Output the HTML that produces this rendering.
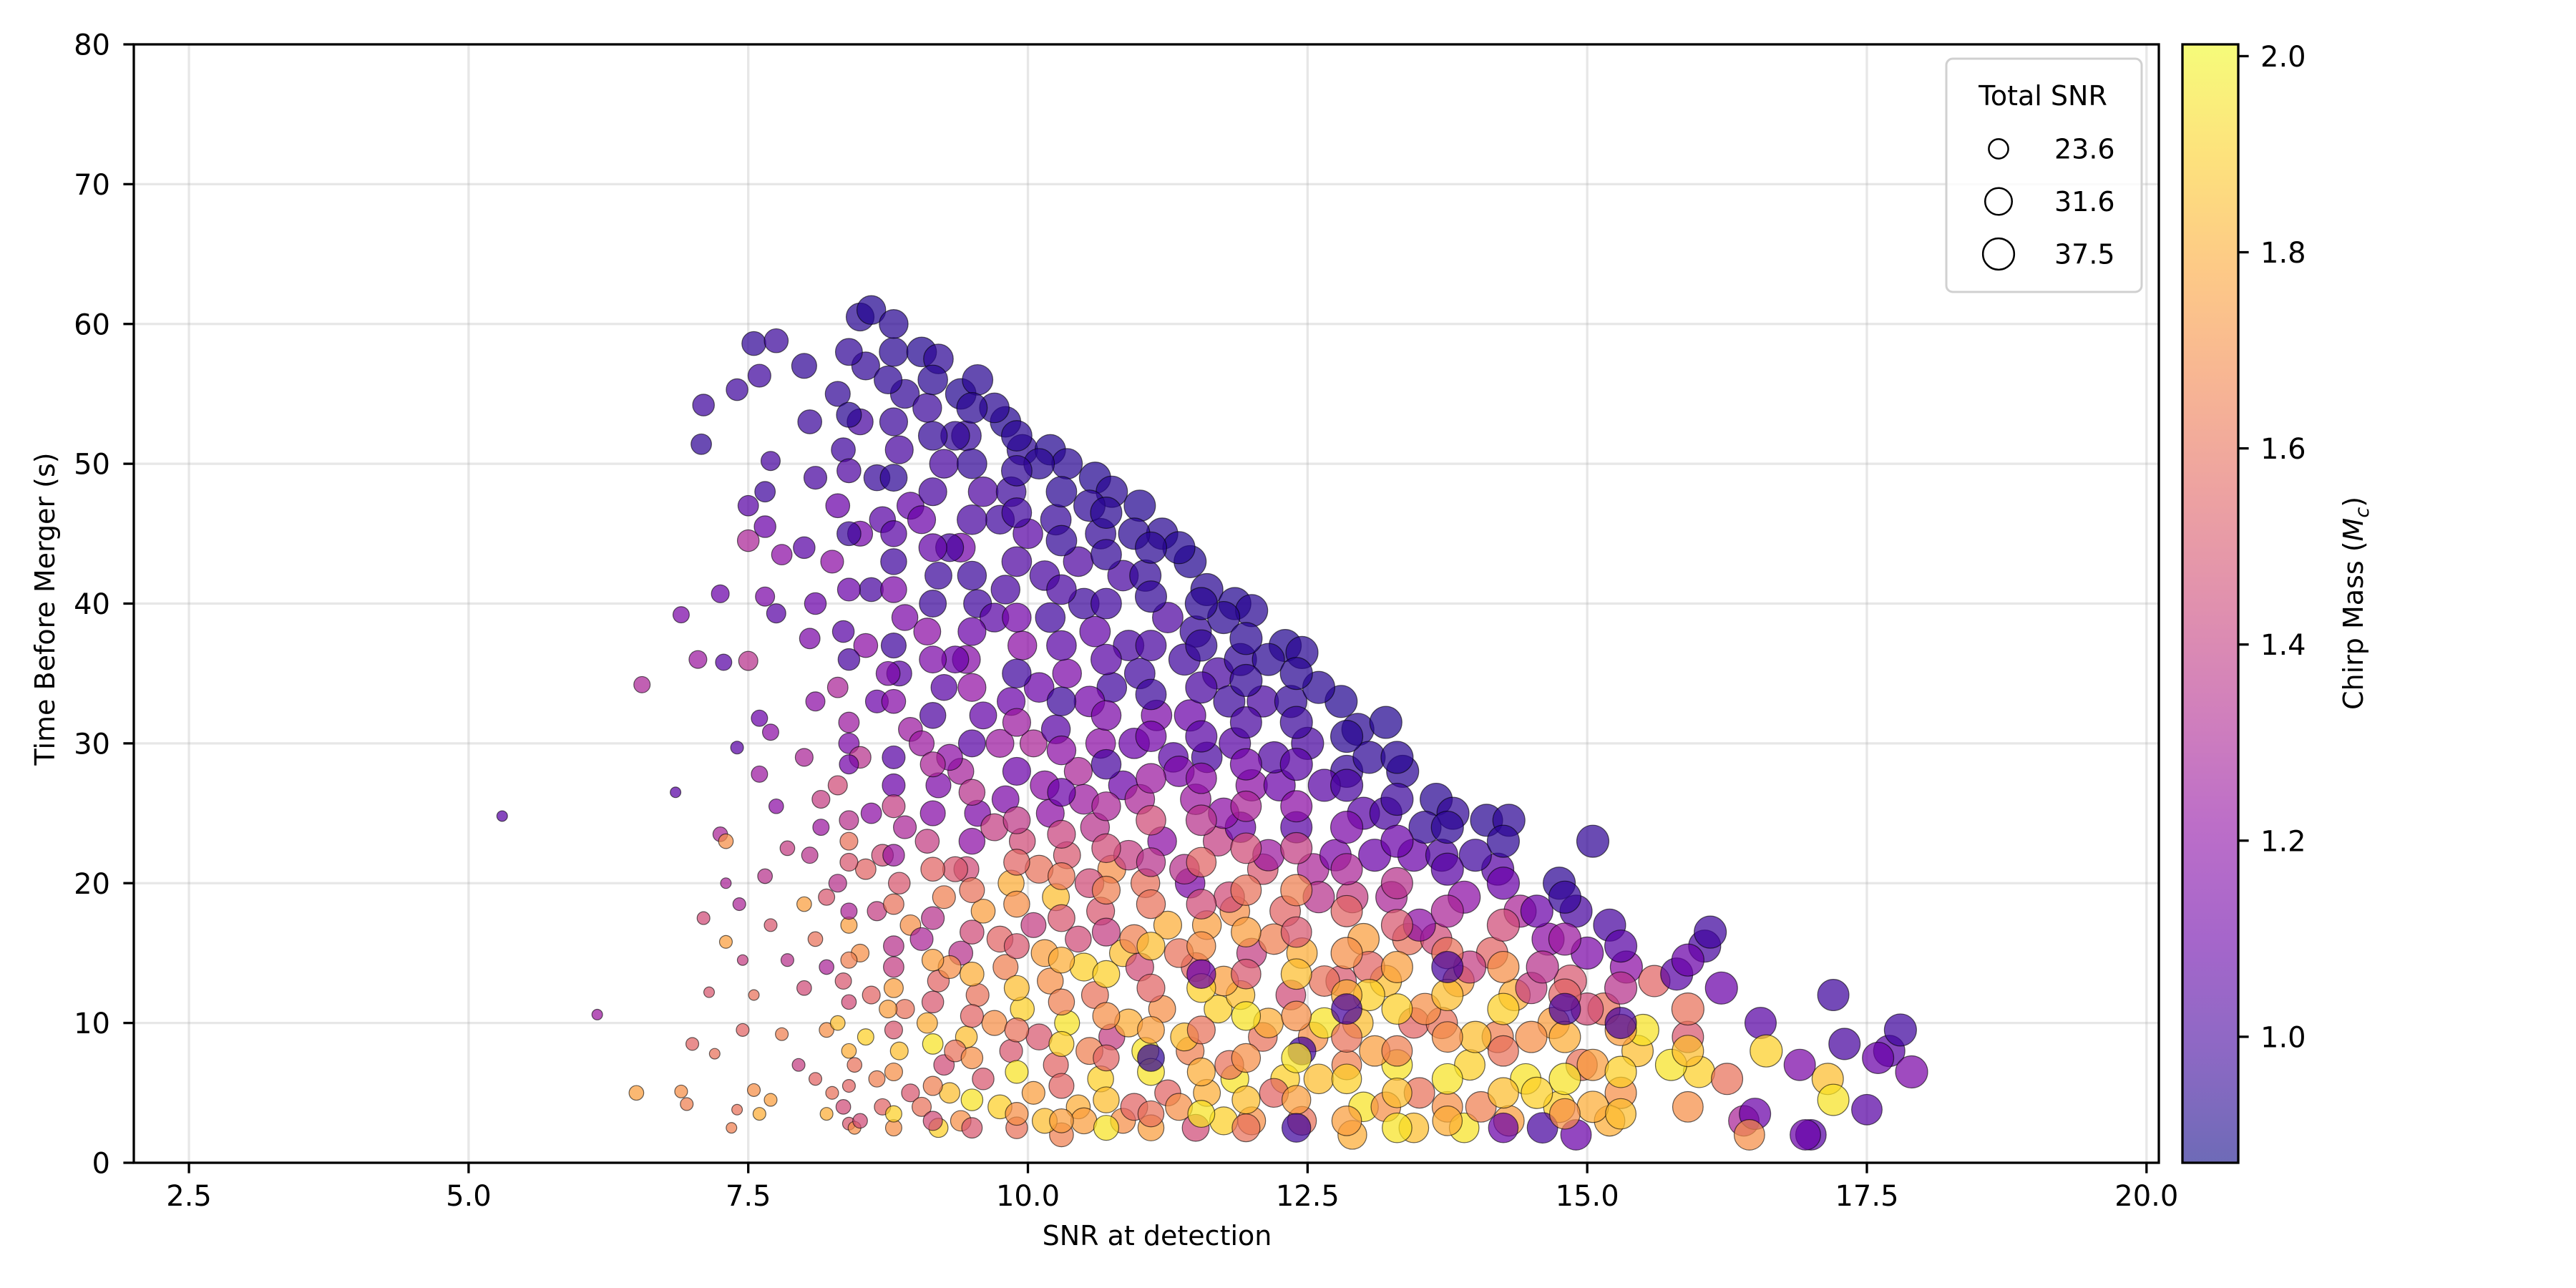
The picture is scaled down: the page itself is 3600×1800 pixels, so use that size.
<!DOCTYPE html>
<html><head><meta charset="utf-8"><style>
html,body{margin:0;padding:0;background:#fff;}
svg{display:block;font-family:"DejaVu Sans","Liberation Sans",sans-serif;}
</style></head><body>
<svg id="chart" xmlns="http://www.w3.org/2000/svg" width="3600" height="1800" viewBox="0 0 3600 1800">
<rect width="3600" height="1800" fill="#fff"/>
<defs>
<linearGradient id="cbgrad" x1="0" y1="1" x2="0" y2="0">
<stop offset="0" stop-color="#0d0887"/><stop offset="0.1" stop-color="#41049d"/><stop offset="0.2" stop-color="#6a00a8"/><stop offset="0.3" stop-color="#8f0da4"/><stop offset="0.4" stop-color="#b12a90"/><stop offset="0.5" stop-color="#cc4778"/><stop offset="0.6" stop-color="#e16462"/><stop offset="0.7" stop-color="#f2844b"/><stop offset="0.8" stop-color="#fca636"/><stop offset="0.9" stop-color="#fcce25"/><stop offset="1" stop-color="#f0f921"/>
</linearGradient>
<clipPath id="plotclip"><rect x="187" y="62" width="2830" height="1563"/></clipPath>
</defs>
<g id="grid"></g>
<g id="points" clip-path="url(#plotclip)"></g>
<g id="axes"></g>
<g id="legend">
<rect x="2720" y="82" width="273" height="326" rx="9" fill="#fff" fill-opacity="0.8" stroke="#d0d0d0" stroke-width="3"/>
<text x="2855" y="147" font-size="38" text-anchor="middle">Total SNR</text>
</g>
<g id="colorbar"></g>
<text x="1617" y="1740" font-size="38" text-anchor="middle">SNR at detection</text>
<text transform="translate(76,851) rotate(-90)" font-size="38" text-anchor="middle">Time Before Merger (s)</text>
<text transform="translate(3302,843) rotate(-90)" font-size="38" text-anchor="middle">Chirp Mass (<tspan font-style="italic">M</tspan><tspan font-style="italic" font-size="27" dy="8">c</tspan><tspan dy="-8">)</tspan></text>
</svg>
<script>
const xTicks = [2.5, 5.0, 7.5, 10.0, 12.5, 15.0, 17.5, 20.0];
const yTicks = [0, 10, 20, 30, 40, 50, 60, 70, 80];
const cbTicks = [1.0, 1.2, 1.4, 1.6, 1.8, 2.0];
const legendSizes = [23.6, 31.6, 37.5];
const xDomain = [2.007, 20.11];
const yDomain = [0, 80];
const massDomain = [0.8715, 2.012];
// [snrAtDetection, timeBeforeMerger, totalSNR, chirpMass]
const samples = [
[5.3,24.8,17,1.05],[6.15,10.6,17,1.25],[6.5,5,19,1.75],[6.55,34.2,20,1.3],[6.85,26.5,17,1.05],[6.9,39.2,20,1.15],[6.9,5.1,18,1.7],[6.95,4.2,18,1.65],[7.0,8.5,18,1.55],[7.05,36,21,1.25],[7.1,17.5,18,1.45],[7.1,54.2,24,0.98],[7.08,51.4,23,0.95],[7.15,12.2,17,1.5],[7.2,7.8,17,1.6],[7.25,40.7,21,1.1],[7.25,23.5,19,1.3],[7.3,23,19,1.7],[7.28,35.8,20,1.05],[7.3,15.8,18,1.75],[7.3,20,17,1.3],[7.35,2.5,17,1.65],[7.4,3.8,17,1.6],[7.4,29.7,18,1.05],[7.42,18.5,18,1.3],[7.45,14.5,17,1.4],[7.45,9.5,18,1.55],[7.5,47,23,1.05],[7.5,44.5,24,1.3],[7.5,35.9,22,1.35],[7.55,58.6,26,0.95],[7.55,12,17,1.6],[7.55,5.2,18,1.7],[7.6,56.3,25,0.98],[7.6,31.8,20,1.1],[7.6,27.8,20,1.25],[7.6,3.5,18,1.8],[7.65,40.5,22,1.15],[7.65,45.5,24,1.1],[7.65,20.5,19,1.35],[7.65,48,23,0.98],[7.7,50.2,22,1.0],[7.7,30.8,20,1.2],[7.7,17,18,1.5],[7.7,4.5,18,1.75],[7.75,58.8,26,0.97],[7.75,39.3,22,1.05],[7.75,25.5,19,1.2],[7.8,43.5,23,1.2],[7.8,9.2,18,1.65],[7.85,14.5,18,1.35],[7.85,22.5,19,1.4],[7.4,55.3,24,0.98],
[7.95,7,18,1.4],[8.0,18.5,19,1.75],[8.15,24,20,1.25],[8.2,14,19,1.3],[8.25,5,18,1.6],[8.4,2.8,18,1.5],
[8.0,57,27,0.95],[8.05,53,26,0.97],[8.1,49,25,1.0],[8.0,44,24,1.05],[8.1,40,24,1.1],[8.05,37.5,23,1.15],[8.1,33,22,1.2],[8.0,29,21,1.3],[8.15,26,21,1.4],[8.05,22,20,1.35],[8.2,19,20,1.5],[8.1,16,19,1.6],[8.0,12.5,19,1.45],[8.2,9.5,19,1.7],[8.1,6,18,1.55],[8.2,3.5,18,1.8],
[8.3,55,27,0.95],[8.35,51,26,0.98],[8.3,47,26,1.1],[8.25,43,25,1.2],[8.35,38,24,1.05],[8.3,34,23,1.3],[8.4,30,23,1.15],[8.3,27,22,1.45],[8.4,23,21,1.6],[8.3,20,21,1.35],[8.4,17,20,1.75],[8.35,13,20,1.5],[8.3,10,19,1.85],[8.45,7,19,1.6],[8.35,4,19,1.45],[8.45,2.5,18,1.7],
[8.5,60.5,30,0.93],[8.6,61,31,0.92],[8.55,57,30,0.95],[8.5,53,28,1.0],[8.65,49,28,0.96],[8.5,45,27,1.12],[8.6,41,26,1.0],[8.55,37,26,1.2],[8.65,33,25,1.1],[8.5,29,24,1.35],[8.6,25,23,1.2],[8.55,21,23,1.55],[8.65,18,22,1.4],[8.5,15,21,1.7],[8.6,12,21,1.55],[8.55,9,20,1.9],[8.65,6,20,1.65],[8.5,3,19,1.45],
[8.8,58,31,0.93],[8.9,55,31,0.95],[8.85,51,30,1.0],[8.95,47,29,1.08],[8.8,43,28,0.98],[8.9,39,28,1.15],[8.85,35,27,1.05],[8.95,31,26,1.25],[8.8,27,25,1.1],[8.9,24,25,1.3],[8.85,20,24,1.5],[8.95,17,23,1.7],[8.8,14,23,1.4],[8.9,11,22,1.6],[8.85,8,21,1.85],[8.95,5,21,1.5],[8.8,2.5,20,1.7],
[9.05,58,32,0.92],[9.2,57.5,32,0.94],[9.1,54,31,0.97],[9.25,50,31,1.0],[9.05,46,30,1.1],[9.2,42,29,0.97],[9.1,38,29,1.2],[9.25,34,28,1.05],[9.05,30,27,1.25],[9.2,27,27,1.15],[9.1,23,26,1.4],[9.25,19,25,1.65],[9.05,16,25,1.3],[9.2,13,24,1.55],[9.1,10,23,1.8],[9.25,7,23,1.45],[9.05,4,22,1.6],[9.2,2.5,22,1.9],
[9.4,55,33,0.92],[9.55,56,33,0.93],[9.45,52,32,0.96],[9.6,48,32,1.02],[9.4,44,31,1.12],[9.55,40,30,0.98],[9.45,36,30,1.18],[9.6,32,29,1.08],[9.4,28,28,1.28],[9.55,25,28,1.15],[9.45,21,27,1.45],[9.6,18,26,1.75],[9.4,15,26,1.35],[9.55,12,25,1.6],[9.45,9,24,1.85],[9.6,6,24,1.5],[9.4,3,23,1.7],
[9.8,53,33,0.92],[9.95,51,33,0.94],[9.85,48,32,0.97],[10.0,45,32,1.05],[9.8,41,31,1.0],[9.95,37,31,1.2],[9.85,33,30,1.1],[10.05,30,29,1.3],[9.8,26,29,1.15],[9.95,23,28,1.45],[9.85,20,28,1.8],[10.05,17,27,1.4],[9.8,14,27,1.65],[9.95,11,26,1.9],[9.85,8,25,1.5],[10.05,5,25,1.75],[9.9,2.5,24,1.6],
[10.2,51,33,0.92],[10.35,50,33,0.93],[10.25,46,33,0.96],[10.45,43,32,1.02],[10.2,39,32,0.98],[10.35,35,31,1.15],[10.25,31,31,1.05],[10.45,28,30,1.3],[10.2,25,30,1.2],[10.35,22,29,1.5],[10.25,19,29,1.85],[10.45,16,28,1.45],[10.2,13,28,1.7],[10.35,10,27,1.95],[10.25,7,27,1.55],[10.45,4,26,1.8],[10.3,2,26,1.65],
[10.6,49,34,0.92],[10.75,48,34,0.93],[10.65,45,33,0.95],[10.85,42,33,1.0],[10.6,38,33,1.08],[10.75,34,32,0.98],[10.65,30,32,1.2],[10.85,27,31,1.1],[10.6,24,31,1.35],[10.75,21,30,1.7],[10.65,18,30,1.5],[10.85,15,29,1.85],[10.6,12,29,1.6],[10.75,9,28,1.4],[10.65,6,28,1.9],[10.85,3,27,1.7],
[11.0,47,34,0.92],[11.2,45,34,0.93],[11.05,42,34,0.95],[11.25,39,33,1.02],[11.0,35,33,0.98],[11.15,32,33,1.15],[11.3,29,32,1.05],[11.0,26,32,1.3],[11.2,23,31,1.2],[11.05,20,31,1.6],[11.25,17,30,1.8],[11.0,14,30,1.45],[11.2,11,29,1.7],[11.05,8,29,1.95],[11.25,5,28,1.55],[11.1,2.5,28,1.75],
[11.45,43,35,0.92],[11.6,41,35,0.93],[11.5,38,34,0.96],[11.7,35,34,1.0],[11.45,32,34,1.1],[11.6,29,33,1.0],[11.5,26,33,1.25],[11.7,23,32,1.4],[11.45,20,32,1.15],[11.6,17,31,1.75],[11.5,14,31,1.55],[11.7,11,30,1.9],[11.45,8,30,1.65],[11.6,5,29,1.8],[11.5,2.5,29,1.45],
[11.85,40,35,0.92],[12.0,39.5,35,0.93],[11.9,36,35,0.95],[12.1,33,34,1.0],[11.85,30,34,1.05],[12.0,27,34,1.2],[11.9,24,33,1.1],[12.1,21,33,1.5],[11.85,18,32,1.7],[12.0,15,32,1.4],[11.9,12,31,1.85],[12.1,9,31,1.6],[11.85,6,30,1.95],[12.0,3,30,1.7],
[12.3,37,35,0.92],[12.45,36.5,35,0.93],[12.35,33,35,0.95],[12.5,30,35,1.0],[12.25,27,34,1.1],[12.4,24,34,1.05],[12.55,21,34,1.3],[12.3,18,33,1.55],[12.45,15,33,1.8],[12.35,12,32,1.45],[12.55,9,32,1.7],[12.3,6,31,1.9],[12.45,3,31,1.6],[12.45,8,30,0.98],
[12.8,33,35,0.92],[12.95,31,35,0.93],[12.85,28,35,0.96],[13.0,25,35,1.05],[12.75,22,34,1.15],[12.9,19,34,1.4],[13.0,16,34,1.75],[12.8,13,33,1.5],[12.95,10,33,1.85],[12.85,7,32,1.65],[13.0,4,32,1.95],[12.9,2,31,1.8],
[13.2,31.5,35,0.92],[13.35,28,35,0.94],[13.2,25,35,1.0],[13.45,22,35,1.1],[13.25,19,34,1.3],[13.4,16,34,1.6],[13.2,13,34,1.85],[13.45,10,33,1.55],[13.3,7,33,1.95],[13.2,4,32,1.7],[13.45,2.5,32,1.85],
[13.65,26,35,0.93],[13.8,25,35,0.95],[13.7,22,35,1.02],[13.9,19,35,1.2],[13.65,16,34,1.45],[13.85,13,34,1.75],[13.7,10,34,1.6],[13.95,7,33,1.9],[13.75,4,33,1.7],[13.9,2.5,32,1.95],
[14.1,24.5,35,0.93],[14.3,24.5,35,0.94],[14.2,21,35,1.05],[14.4,18,35,1.3],[14.15,15,34,1.55],[14.35,12,34,1.8],[14.2,9,34,1.65],[14.45,6,33,1.95],[14.3,3,33,1.75],[14.5,12.5,34,1.4],
[14.75,20,35,0.94],[14.9,18,35,1.0],[14.65,16,35,1.2],[14.85,13,35,1.5],[14.7,10,34,1.75],[14.95,7,34,1.6],[14.75,4,34,1.9],[14.6,2.5,33,1.0],[15.05,23,35,0.95],[14.9,2,33,1.1],
[15.2,17,35,1.0],[15.35,14,35,1.2],[15.15,11,35,1.6],[15.45,8,34,1.85],[15.3,5,34,1.7],[15.6,13,34,1.55],[15.5,9.5,34,1.95],[15.2,3,33,1.8],
[15.8,13.5,35,1.05],[16.05,15.5,35,1.0],[16.1,16.5,35,0.98],[16.2,12.5,35,1.1],[15.9,9,34,1.5],[16.0,6.5,34,1.9],[16.25,6,34,1.6],[15.75,7,34,1.95],[16.4,3,33,1.3],
[16.55,10,34,1.05],[16.6,8,35,1.9],[16.5,3.5,34,1.1],[16.45,2,33,1.7],[16.9,7,34,1.15],[17.0,2,33,1.05],[16.95,2,33,1.1],
[17.2,12,34,0.98],[17.3,8.5,34,1.0],[17.15,6,34,1.85],[17.2,4.5,34,1.95],[17.5,3.8,33,1.05],[17.7,8,34,1.05],[17.8,9.5,35,0.98],[17.9,6.5,35,1.15],[17.6,7.5,34,1.1],
[8.75,56,30,0.94],[8.7,46,28,1.05],[8.75,35,26,1.15],[8.7,22,24,1.45],[8.75,11,21,1.75],[8.7,4,20,1.55],
[9.35,52,31,0.95],[9.3,44,30,1.0],[9.35,36,29,1.1],[9.3,29,28,1.2],[9.35,21,27,1.5],[9.3,14,25,1.7],[9.35,8,24,1.6],[9.3,5,23,1.85],
[9.7,54,32,0.93],[9.75,46,31,0.98],[9.7,39,31,1.05],[9.75,30,30,1.25],[9.7,24,29,1.4],[9.75,16,28,1.55],[9.7,10,27,1.7],[9.75,4,26,1.9],
[10.1,50,33,0.93],[10.15,42,32,1.0],[10.1,34,32,1.1],[10.15,27,31,1.2],[10.1,21,30,1.6],[10.15,15,29,1.75],[10.1,9,28,1.5],[10.15,3,27,1.85],
[10.55,47,34,0.94],[10.5,40,33,0.97],[10.55,33,33,1.12],[10.5,26,32,1.25],[10.55,20,31,1.45],[10.5,14,30,1.9],[10.55,8,29,1.65],[10.5,3,28,1.75],
[10.95,45,34,0.93],[10.9,37,33,1.0],[10.95,30,33,1.1],[10.9,22,32,1.4],[10.95,16,31,1.65],[10.9,10,30,1.8],[10.95,4,29,1.55],
[11.35,44,35,0.92],[11.4,36,34,0.98],[11.35,28,33,1.15],[11.4,21,32,1.35],[11.35,15,31,1.6],[11.4,9,30,1.85],[11.35,4,29,1.7],
[11.75,39,35,0.93],[11.8,33,34,0.97],[11.75,25,33,1.2],[11.8,19,33,1.45],[11.75,13,32,1.75],[11.8,7,31,1.6],[11.75,3,30,1.9],
[12.15,36,35,0.93],[12.2,29,34,1.02],[12.15,22,34,1.25],[12.2,16,33,1.65],[12.15,10,32,1.8],[12.2,5,31,1.55],
[12.6,34,35,0.93],[12.65,27,35,1.05],[12.6,19,34,1.35],[12.65,13,33,1.6],[12.6,6,32,1.85],[12.65,10,33,1.95],
[13.05,29,35,0.94],[13.1,22,35,1.1],[13.05,14,34,1.55],[13.1,8,33,1.75],[13.05,12,34,1.9],
[13.55,24,35,0.95],[13.5,17,35,1.2],[13.55,11,34,1.7],[13.5,5,33,1.6],
[14.0,22,35,0.98],[13.95,14,35,1.4],[14.0,9,34,1.85],[14.05,4,33,1.65],
[14.55,18,35,1.1],[14.5,9,34,1.7],[14.55,5,34,1.9],[14.6,14,35,1.35],
[15.0,15,35,1.15],[15.0,11,35,1.45],[15.05,7,34,1.75],[15.05,4,34,1.8],
[8.4,58,29,0.95],[8.4,53.5,27,0.93],[8.4,49.5,26,1.02],[8.4,45,26,0.97],[8.4,41,25,1.1],[8.4,36,24,1.0],[8.4,31.5,23,1.25],[8.4,28.5,22,1.12],[8.4,24.5,22,1.35],[8.4,21.5,21,1.5],[8.4,18,20,1.3],[8.4,14.5,20,1.65],[8.4,11.5,19,1.45],[8.4,8,19,1.8],[8.4,5.5,18,1.55],
[8.8,60,31,0.93],[8.8,53,30,0.97],[8.8,49,29,0.94],[8.8,45,28,1.05],[8.8,41,28,1.15],[8.8,37,27,0.98],[8.8,33,26,1.18],[8.8,29,25,1.05],[8.8,25.5,25,1.4],[8.8,22,24,1.25],[8.8,18.5,23,1.6],[8.8,15.5,23,1.35],[8.8,12.5,22,1.75],[8.8,9.5,21,1.5],[8.8,6.5,21,1.7],[8.8,3.5,20,1.9],
[9.15,56,32,0.93],[9.15,52,31,0.95],[9.15,48,30,1.0],[9.15,44,30,1.08],[9.15,40,29,0.97],[9.15,36,29,1.15],[9.15,32,28,1.02],[9.15,28.5,27,1.3],[9.15,25,27,1.18],[9.15,21,26,1.55],[9.15,17.5,25,1.35],[9.15,14.5,24,1.75],[9.15,11.5,24,1.5],[9.15,8.5,23,1.95],[9.15,5.5,22,1.65],[9.15,3,22,1.45],
[9.5,54,33,0.93],[9.5,50,32,0.95],[9.5,46,32,1.0],[9.5,42,31,0.97],[9.5,38,30,1.1],[9.5,34,30,1.22],[9.5,30,29,1.05],[9.5,26.5,28,1.35],[9.5,23,28,1.2],[9.5,19.5,27,1.6],[9.5,16.5,26,1.45],[9.5,13.5,26,1.8],[9.5,10.5,25,1.55],[9.5,7.5,24,1.7],[9.5,4.5,24,1.95],[9.5,2.5,23,1.5],
[9.9,52,33,0.93],[9.9,49.5,33,0.95],[9.9,46.5,32,0.98],[9.9,43,32,1.02],[9.9,39,31,1.12],[9.9,35,31,0.98],[9.9,31.5,30,1.25],[9.9,28,30,1.1],[9.9,24.5,29,1.38],[9.9,21.5,28,1.55],[9.9,18.5,28,1.7],[9.9,15.5,27,1.5],[9.9,12.5,27,1.85],[9.9,9.5,26,1.6],[9.9,6.5,25,1.95],[9.9,3.5,25,1.7],
[10.3,48,33,0.93],[10.3,44.5,33,0.95],[10.3,41,32,1.0],[10.3,37,32,1.05],[10.3,33,31,0.97],[10.3,29.5,31,1.2],[10.3,26.5,30,1.1],[10.3,23.5,30,1.42],[10.3,20.5,29,1.62],[10.3,17.5,29,1.5],[10.3,14.5,28,1.8],[10.3,11.5,28,1.65],[10.3,8.5,27,1.9],[10.3,5.5,27,1.55],[10.3,3,26,1.75],
[10.7,46.5,34,0.93],[10.7,43.5,33,0.95],[10.7,40,33,0.98],[10.7,36,33,1.05],[10.7,32,32,1.15],[10.7,28.5,32,1.0],[10.7,25.5,31,1.3],[10.7,22.5,31,1.45],[10.7,19.5,30,1.65],[10.7,16.5,30,1.4],[10.7,13.5,29,1.9],[10.7,10.5,29,1.7],[10.7,7.5,28,1.55],[10.7,4.5,28,1.85],[10.7,2.5,27,1.95],
[11.1,44,34,0.93],[11.1,40.5,34,0.95],[11.1,37,33,1.0],[11.1,33.5,33,0.97],[11.1,30.5,33,1.12],[11.1,27.5,32,1.25],[11.1,24.5,32,1.45],[11.1,21.5,31,1.35],[11.1,18.5,31,1.6],[11.1,15.5,30,1.85],[11.1,12.5,30,1.55],[11.1,9.5,29,1.75],[11.1,6.5,29,1.95],[11.1,3.5,28,1.6],[11.1,7.5,29,0.95],
[11.55,40,35,0.93],[11.55,37,34,0.95],[11.55,34,34,1.0],[11.55,30.5,34,1.05],[11.55,27.5,33,1.2],[11.55,24.5,33,1.35],[11.55,21.5,32,1.55],[11.55,18.5,32,1.45],[11.55,15.5,31,1.7],[11.55,12.5,31,1.9],[11.55,9.5,30,1.6],[11.55,6.5,30,1.8],[11.55,3.5,29,1.95],[11.55,13.5,31,1.1],
[11.95,37.5,35,0.93],[11.95,34.5,35,0.95],[11.95,31.5,34,1.0],[11.95,28.5,34,1.12],[11.95,25.5,33,1.3],[11.95,22.5,33,1.45],[11.95,19.5,33,1.6],[11.95,16.5,32,1.75],[11.95,13.5,32,1.5],[11.95,10.5,31,1.95],[11.95,7.5,31,1.7],[11.95,4.5,30,1.85],[11.95,2.5,30,1.6],
[12.4,35,35,0.93],[12.4,31.5,35,0.97],[12.4,28.5,35,1.05],[12.4,25.5,34,1.2],[12.4,22.5,34,1.4],[12.4,19.5,34,1.65],[12.4,16.5,33,1.5],[12.4,13.5,33,1.85],[12.4,10.5,32,1.7],[12.4,7.5,32,1.95],[12.4,4.5,31,1.75],[12.4,2.5,31,0.98],
[12.85,30.5,35,0.93],[12.85,27,35,1.0],[12.85,24,35,1.15],[12.85,21,34,1.3],[12.85,18,34,1.55],[12.85,15,34,1.7],[12.85,12,33,1.8],[12.85,9,33,1.6],[12.85,6,32,1.9],[12.85,3,32,1.75],[12.85,11,33,1.0],
[13.3,29,35,0.93],[13.3,26,35,0.97],[13.3,23,35,1.1],[13.3,20,34,1.35],[13.3,17,34,1.5],[13.3,14,34,1.75],[13.3,11,33,1.9],[13.3,8,33,1.65],[13.3,5,32,1.85],[13.3,2.5,32,1.95],
[13.75,24,35,0.94],[13.75,21,35,1.05],[13.75,18,35,1.3],[13.75,15,34,1.6],[13.75,12,34,1.85],[13.75,9,33,1.7],[13.75,6,33,1.95],[13.75,3,32,1.8],[13.75,14,34,1.0],
[14.25,23,35,0.94],[14.25,20,35,1.1],[14.25,17,35,1.45],[14.25,14,34,1.7],[14.25,11,34,1.9],[14.25,8,33,1.6],[14.25,5,33,1.85],[14.25,2.5,32,1.1],
[14.8,19,35,0.96],[14.8,16,35,1.25],[14.8,12,35,1.55],[14.8,9,34,1.8],[14.8,6,34,1.95],[14.8,3.5,33,1.7],[14.8,11,34,1.0],
[15.3,15.5,35,1.05],[15.3,12.5,35,1.35],[15.3,9.5,34,1.75],[15.3,6.5,34,1.9],[15.3,3.5,33,1.85],[15.3,10,34,1.0],
[15.9,14.5,35,1.1],[15.9,11,35,1.6],[15.9,8,34,1.85],[15.9,4,33,1.7]
];

const NS = 'http://www.w3.org/2000/svg';
const PL = 187, PR = 3017, PT = 62, PB = 1625;
function xs(v){ return PL + (v - xDomain[0]) / (xDomain[1] - xDomain[0]) * (PR - PL); }
function ys(v){ return PB - (v - yDomain[0]) / (yDomain[1] - yDomain[0]) * (PB - PT); }
function ms(v){ return PB - (v - massDomain[0]) / (massDomain[1] - massDomain[0]) * (PB - PT); }
function rs(s){ return Math.sqrt(Math.max(20, 21 * (s - 14.8))); }
function rp(s){ return Math.sqrt(Math.max(24, 25 * (s - 14.8))); }
const stops = [[13,8,135],[65,4,157],[106,0,168],[143,13,164],[177,42,144],[204,71,120],[225,100,98],[242,132,75],[252,166,54],[252,206,37],[240,249,33]];
function plasma(m){
  let t = (m - massDomain[0]) / (massDomain[1] - massDomain[0]);
  t = Math.max(0, Math.min(1, t)) * 10;
  const i = Math.min(9, Math.floor(t)), f = t - i;
  const a = stops[i], b = stops[i+1];
  return 'rgb(' + [0,1,2].map(k => Math.round(a[k] + (b[k]-a[k])*f)).join(',') + ')';
}
function mk(tag, attrs, parent){
  const el = document.createElementNS(NS, tag);
  for (const k in attrs) el.setAttribute(k, attrs[k]);
  parent.appendChild(el);
  return el;
}
const grid = document.getElementById('grid');
const axes = document.getElementById('axes');
const pts = document.getElementById('points');
const cb = document.getElementById('colorbar');
const leg = document.getElementById('legend');

xTicks.forEach(v => {
  const x = xs(v);
  const g = mk('line', {x1:x, x2:x, y1:PT, y2:PB, stroke:'#b0b0b0', 'stroke-opacity':0.3, 'stroke-width':3.3}, grid);
  
  
  const t = mk('line', {x1:x, x2:x, y1:PB, y2:PB+14.6, stroke:'#000', 'stroke-width':3.3}, axes);
  
  
  const l = mk('text', {x:x, y:PB+60, 'font-size':40, 'text-anchor':'middle'}, axes);
  l.textContent = v.toFixed(1);
  
  
});
yTicks.forEach(v => {
  const y = ys(v);
  const g = mk('line', {x1:PL, x2:PR, y1:y, y2:y, stroke:'#b0b0b0', 'stroke-opacity':0.3, 'stroke-width':3.3}, grid);
  
  
  const t = mk('line', {x1:PL-14.6, x2:PL, y1:y, y2:y, stroke:'#000', 'stroke-width':3.3}, axes);
  
  
  const l = mk('text', {x:PL-33, y:y+14.5, 'font-size':40, 'text-anchor':'end'}, axes);
  l.textContent = String(v);
  
  
});
const frame = mk('rect', {x:PL, y:PT, width:PR-PL, height:PB-PT, fill:'none', stroke:'#000', 'stroke-width':3.3}, axes);



samples.forEach(p => {
  const c = mk('circle', {cx:xs(p[0]), cy:ys(p[1]), r:rp(p[2]), fill:plasma(p[3]), 'fill-opacity':0.72, stroke:'#000', 'stroke-opacity':0.6, 'stroke-width':1.2}, pts);
  
  
});

const cbx = 3050, cbw = 78;
const cbr = mk('rect', {x:cbx, y:PT, width:cbw, height:PB-PT, fill:'url(#cbgrad)', 'fill-opacity':0.6}, cb);


const cbo = mk('rect', {x:cbx, y:PT, width:cbw, height:PB-PT, fill:'none', stroke:'#000', 'stroke-width':3.3}, cb);


cbTicks.forEach(v => {
  const y = ms(v);
  const t = mk('line', {x1:cbx+cbw, x2:cbx+cbw+14.6, y1:y, y2:y, stroke:'#000', 'stroke-width':3.3}, cb);
  
  
  const l = mk('text', {x:3159, y:y+14.5, 'font-size':40}, cb);
  l.textContent = v.toFixed(1);
  
  
});

legendSizes.forEach((s, i) => {
  const y = 208 + i * 73.5;
  const c = mk('circle', {cx:2793, cy:y, r:rs(s), fill:'none', stroke:'#000', 'stroke-width':2.5}, leg);
  
  
  const t = mk('text', {x:2871, y:y+13.5, 'font-size':38}, leg);
  t.textContent = s.toFixed(1);
  
  
});
</script>
</body></html>
